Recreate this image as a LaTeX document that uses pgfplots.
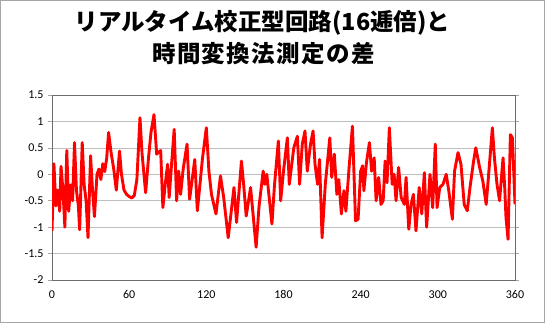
\documentclass[border=0pt]{standalone}
\usepackage{pgfplots}
\pgfplotsset{compat=1.18}
\usepackage{fontspec}
\setmainfont{Carlito}
\newfontfamily\cjk{Noto Sans CJK JP}
\newfontfamily\cjkwide[LetterSpace=6]{Noto Sans CJK JP}
\begin{document}
\begin{tikzpicture}[x=1pt,y=1pt]
\draw[gray!70, line width=0.8pt] (0.4,0.4) rectangle (544.6,322.6);
\node[font={\cjk\bfseries\fontsize{23.5}{27}\selectfont}] at (262.5,300.5) {リアルタイム校正型回路(16逓倍)と};
\node[font={\cjkwide\bfseries\fontsize{23.5}{27}\selectfont}] at (263.5,269) {時間変換法測定の差};
\begin{axis}[
  at={(52pt,43pt)}, anchor=south west,
  scale only axis, width=463pt, height=185pt,
  xmin=0, xmax=360, ymin=-2, ymax=1.5,
  xtick={0,60,...,360}, ytick={-2,-1.5,...,1.5},
  ymajorgrids, grid style={gray!50, line width=0.6pt},
  axis line style={gray!85!black, line width=0.7pt},
  tick align=outside,
  xtick style={draw=none},
  ytick style={gray!70, line width=0.6pt},
  major tick length=4pt,
  tick label style={font=\fontsize{12}{14}\selectfont, /pgf/number format/assume math mode=true},
  yticklabel style={/pgf/number format/fixed, /pgf/number format/precision=1, xshift=-1pt},
  xticklabel style={yshift=-3pt},
  clip=true,
]
\addplot[red, line width=2.9pt, line join=round, no markers] coordinates {
(0,-1.07) (1.5,0.2) (3,-0.6) (4.5,-0.3) (6,-0.7) (7,0.15) (8.5,-0.3) (10,-1.0)
(11.5,0.45) (13,-0.7) (14.5,-0.2) (16,-0.5) (17.5,0.6) (19,-0.3) (20.5,-0.6) (21.5,-1.05)
(23.5,0.6) (25,-0.2) (26.5,-0.5) (28,-1.2) (30,0.35) (31.5,-0.3) (33,-0.8) (35,0.0)
(36.5,0.1) (38,-0.1) (39.5,0.2) (41,0.05) (42.5,0.3) (44,0.79) (46,0.4) (48,0.1)
(50,-0.3) (52.5,0.44) (54,0.0) (56,-0.3) (58,-0.38) (60,-0.42) (62,-0.45) (64,-0.4)
(66,-0.1) (68.4,1.07) (70,0.4) (72.8,-0.35) (75,0.3) (77,0.8) (79.3,1.13) (81.4,0.38)
(83,0.42) (84.5,0.45) (86.2,-0.63) (88,-0.2) (89.9,0.19) (91.1,-0.44) (93,0.2) (95,0.85)
(96.9,-0.5) (98.5,0.06) (100,-0.38) (102,0.1) (105,0.57) (107,-0.47) (109,-0.1) (111,0.28)
(113,-0.69) (115,-0.2) (117,0.3) (120,0.88) (122,0.06) (124,-0.38) (127.5,-0.75) (131,-0.03)
(133.5,-0.44) (137,-1.2) (141.5,-0.25) (143.5,-0.91) (147.3,0.25) (149,-0.19) (151,-0.79) (154.4,-0.25)
(156.5,-0.8) (158.7,-1.38) (161,-0.6) (164.2,0.06) (165.5,-0.19) (167,0.0) (171,-0.94) (173,-0.2)
(176,0.63) (177.8,-0.5) (180,0.06) (183,0.69) (184.5,-0.19) (188,0.5) (190.8,0.72) (192.5,-0.19)
(194.6,0.57) (196.7,0.82) (198.5,0.06) (201,0.57) (203,0.82) (204.5,0.19) (206.5,-0.19) (208,0.28)
(210,-1.2) (212.5,-0.19) (216,0.69) (217.5,-0.06) (219.5,0.38) (221.5,-0.38) (223,-0.1) (225,-0.75)
(227,-0.31) (228.5,-0.7) (231,0.13) (233.6,0.91) (236,-0.88) (238,-0.85) (240,0.06) (241.5,0.16)
(242.5,-0.31) (244.5,0.22) (246.8,0.6) (248.5,0.06) (250.5,0.31) (252,-0.5) (254,-0.06) (255.8,-0.57)
(257.5,-0.5) (259,0.25) (260.5,-0.16) (262.3,0.88) (264.5,-0.19) (266,0.0) (267.5,-0.5) (269.5,0.13)
(271.5,-0.44) (274,-0.57) (275.3,-0.06) (277.4,-1.04) (279.2,-0.57) (281,-0.38) (283,-1.07) (285.5,-0.25)
(287.5,-0.75) (289.5,0.03) (291.3,-1.0) (293.9,0.0) (296,-0.63) (298,0.57) (299.4,-0.63) (301.5,-0.25)
(304,-0.19) (306.5,0.0) (308.5,-0.31) (311.3,-0.85) (313,0.06) (315.7,0.41) (318,0.19) (320.5,-0.57)
(322.9,-0.69) (325,-0.25) (327.8,0.25) (329.5,0.5) (332.5,0.13) (335,-0.13) (337.6,-0.57) (339.7,0.06)
(342.4,0.88) (344,0.31) (346,-0.19) (348,-0.5) (350.7,0.31) (352,-0.25) (353,-0.82) (354.6,-1.23)
(356.4,0.75) (358,0.69) (360,-0.57)
};
\end{axis}
\end{tikzpicture}
\end{document}
